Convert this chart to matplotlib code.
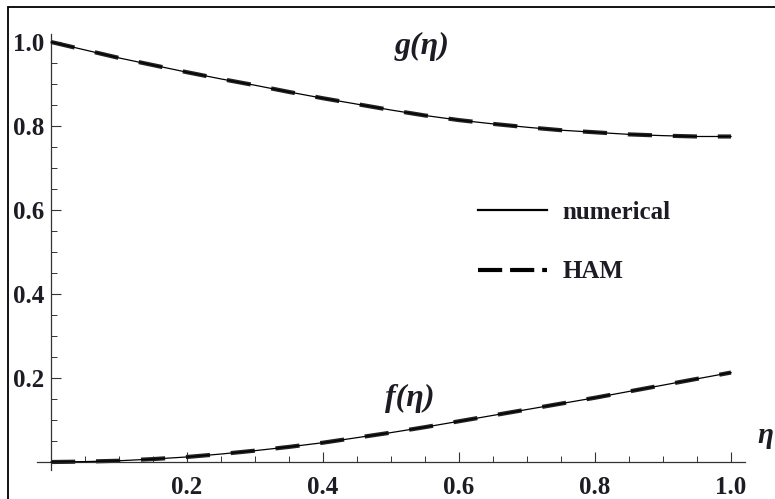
import numpy as np
import matplotlib.pyplot as plt
from matplotlib.lines import Line2D
from matplotlib.patches import Rectangle
from matplotlib.ticker import MultipleLocator

plt.rcParams["font.family"] = ["Liberation Serif", "DejaVu Serif"]

# eta grid and curves
eta = [0.0, 0.05, 0.1, 0.15, 0.2, 0.25, 0.3, 0.35, 0.4, 0.45, 0.5,
       0.55, 0.6, 0.65, 0.7, 0.75, 0.8, 0.85, 0.9, 0.95, 1.0]
g_num = [1.000, 0.981, 0.962, 0.945, 0.928, 0.912, 0.897, 0.881, 0.866, 0.852, 0.838,
         0.825, 0.814, 0.805, 0.797, 0.790, 0.785, 0.780, 0.777, 0.775, 0.775]
f_num = [0.000, 0.001, 0.003, 0.007, 0.012, 0.019, 0.027, 0.036, 0.046, 0.058, 0.070,
         0.083, 0.097, 0.111, 0.125, 0.139, 0.153, 0.168, 0.183, 0.198, 0.213]
# HAM solution overlaps the numerical one
g_ham = list(g_num)
f_ham = list(f_num)

xticks = [0.2, 0.4, 0.6, 0.8, 1.0]
yticks = [0.2, 0.4, 0.6, 0.8, 1.0]

txt = "#1c1c24"
fs = 18

fig = plt.figure(figsize=(7.75, 4.99), dpi=100)
ax = fig.add_axes([0.0483, 0.0573, 0.9125, 0.8754])

dash = (0, (5.8, 5.0))
(num_line,) = ax.plot(eta, g_num, color="black", lw=0.9, zorder=3)
ax.plot(eta, f_num, color="black", lw=0.9, zorder=3)
(ham_line,) = ax.plot(eta, g_ham, color="#222222", lw=3.0, linestyle=dash, zorder=2)
ax.plot(eta, f_ham, color="#222222", lw=3.0, linestyle=dash, zorder=2)

ax.set_xlim(-0.02, 1.02)
ax.set_ylim(-0.02, 1.02)

for s in ["top", "right"]:
    ax.spines[s].set_visible(False)
ax.spines["left"].set_position(("data", 0))
ax.spines["bottom"].set_position(("data", 0))
for s in ["left", "bottom"]:
    ax.spines[s].set_linewidth(0.9)
    ax.spines[s].set_color("#333333")

ax.set_xticks(xticks)
ax.set_yticks(yticks)
ax.xaxis.set_minor_locator(MultipleLocator(0.05))
ax.yaxis.set_minor_locator(MultipleLocator(0.05))
ax.tick_params(which="major", direction="in", length=7, width=0.8, color="#333333")
ax.tick_params(which="minor", direction="in", length=4, width=0.7, color="#333333")
ax.tick_params(axis="x", which="major", pad=10)
ax.tick_params(axis="y", which="major", pad=5)
for lab in ax.get_xticklabels() + ax.get_yticklabels():
    lab.set_fontweight("bold")
    lab.set_fontsize(fs)
    lab.set_color(txt)

ax.text(1.05, 0.062, "η", fontsize=fs + 3, fontweight="bold", fontstyle="italic",
        color=txt, ha="center", va="center", clip_on=False)
ax.text(0.546, 0.99, "g(η)", fontsize=fs + 5, fontweight="bold", fontstyle="italic",
        color=txt, ha="center", va="center")
ax.text(0.528, 0.152, "f(η)", fontsize=fs + 5, fontweight="bold", fontstyle="italic",
        color=txt, ha="center", va="center")

handles = [Line2D([], [], color="black", lw=1.6),
           Line2D([], [], color="black", lw=3.0, linestyle=(0, (5.8, 1.9)))]
leg = ax.legend(handles, ["numerical", "HAM"], loc="upper left",
                bbox_to_anchor=(0.606, 0.645), frameon=False, borderpad=0,
                handlelength=2.75, handletextpad=0.6, labelspacing=1.45,
                prop={"weight": "bold", "size": fs})
for t in leg.get_texts():
    t.set_color(txt)

# outer frame around the whole figure
fig.patches.append(Rectangle((0.0103, -0.01), 1.0, 0.996, transform=fig.transFigure,
                             fill=False, edgecolor="black", lw=1.3))

fig.savefig("out.png", dpi=100)
